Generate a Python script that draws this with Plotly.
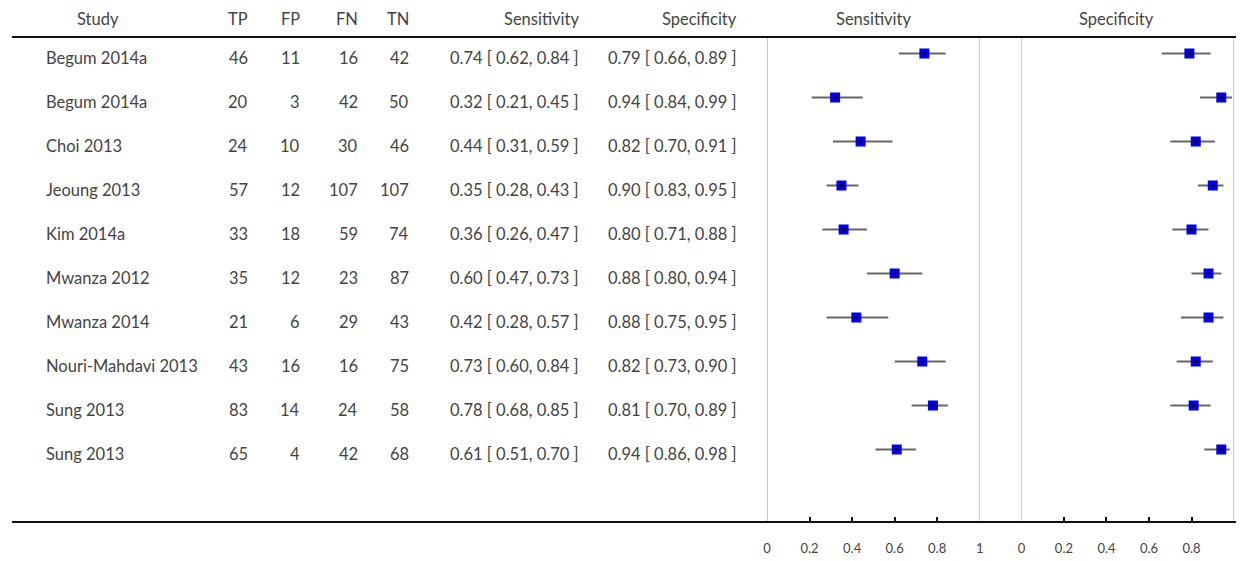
import plotly.graph_objects as go

# Study-level 2x2 data and accuracy estimates
studies = ["Begum 2014a", "Begum 2014a", "Choi 2013", "Jeoung 2013", "Kim 2014a",
           "Mwanza 2012", "Mwanza 2014", "Nouri-Mahdavi 2013", "Sung 2013", "Sung 2013"]
tp = [46, 20, 24, 57, 33, 35, 21, 43, 83, 65]
fp = [11, 3, 10, 12, 18, 12, 6, 16, 14, 4]
fn = [16, 42, 30, 107, 59, 23, 29, 16, 24, 42]
tn = [42, 50, 46, 107, 74, 87, 43, 75, 58, 68]
sens = [0.74, 0.32, 0.44, 0.35, 0.36, 0.60, 0.42, 0.73, 0.78, 0.61]
sens_lo = [0.62, 0.21, 0.31, 0.28, 0.26, 0.47, 0.28, 0.60, 0.68, 0.51]
sens_hi = [0.84, 0.45, 0.59, 0.43, 0.47, 0.73, 0.57, 0.84, 0.85, 0.70]
spec = [0.79, 0.94, 0.82, 0.90, 0.80, 0.88, 0.88, 0.82, 0.81, 0.94]
spec_lo = [0.66, 0.84, 0.70, 0.83, 0.71, 0.80, 0.75, 0.73, 0.70, 0.86]
spec_hi = [0.89, 0.99, 0.91, 0.95, 0.88, 0.94, 0.95, 0.90, 0.89, 0.98]
tick_vals_sens = [0, 0.2, 0.4, 0.6, 0.8, 1]
tick_text_sens = ["0", "0.2", "0.4", "0.6", "0.8", "1"]
tick_vals_spec = [0, 0.2, 0.4, 0.6, 0.8]
tick_text_spec = ["0", "0.2", "0.4", "0.6", "0.8"]

W, H = 1244, 561
FONT = "Lato"
TXT = "#444444"
FS = 16.5
rows = list(range(len(studies)))

# vertical layout (px): first row at 53.5, rows 44 apart, bottom rule at 522
ROW0, ROWH, BOTTOM, TOP = 53.5, 44.0, 522, 37
TEXT_DROP = 4.5 / ROWH  # row labels sit slightly below the marker centre


def px(x):
    return x / W


def py(y):
    return 1 - y / H


fig = go.Figure()


def forest(est, lo, hi, xa):
    fig.add_trace(go.Scatter(
        x=est, y=rows, mode="markers", xaxis=xa, yaxis="y",
        marker=dict(symbol="square", size=10, color="#0000ee",
                    line=dict(width=0)),
        error_x=dict(type="data", symmetric=False,
                     array=[h - e for h, e in zip(hi, est)],
                     arrayminus=[e - l for e, l in zip(est, lo)],
                     width=0, thickness=2, color="#666666"),
        hoverinfo="skip", showlegend=False))
    fig.add_trace(go.Scatter(
        x=est, y=rows, mode="markers", xaxis=xa, yaxis="y",
        marker=dict(symbol="square", size=3, color="#000033"),
        hoverinfo="skip", showlegend=False))


forest(sens, sens_lo, sens_hi, "x")
forest(spec, spec_lo, spec_hi, "x2")

y_dom0 = 1 - BOTTOM / H
y_top_val = (0 - ROW0) / ROWH
y_bot_val = (BOTTOM - ROW0) / ROWH

axis_common = dict(range=[0, 1], showgrid=False, zeroline=False, showline=False,
                   ticks="inside", ticklen=5, tickwidth=1.5, tickcolor="#111",
                   tickfont=dict(family=FONT, size=13, color="#444"),
                   ticklabelstandoff=17, anchor="y", fixedrange=True)

fig.update_layout(
    width=W, height=H,
    margin=dict(l=0, r=0, t=0, b=0),
    paper_bgcolor="white", plot_bgcolor="white",
    xaxis=dict(domain=[px(768), px(982)], tickvals=tick_vals_sens,
               ticktext=tick_text_sens, **axis_common),
    xaxis2=dict(domain=[px(1024), px(1238)], tickvals=tick_vals_spec,
                ticktext=tick_text_spec, **axis_common),
    yaxis=dict(domain=[y_dom0, 1], range=[y_bot_val, y_top_val],
               visible=False, fixedrange=True),
    font=dict(family=FONT, color=TXT),
)

shapes = []
# horizontal rules
for ypix in (TOP, BOTTOM):
    shapes.append(dict(type="line", xref="paper", yref="paper",
                       x0=px(8), x1=px(1240), y0=py(ypix), y1=py(ypix),
                       line=dict(color="#111", width=2)))
# panel boundaries
for xa in ("x", "x2"):
    for xv in (0, 1):
        shapes.append(dict(type="line", xref=xa, yref="paper", x0=xv, x1=xv,
                           y0=py(BOTTOM), y1=py(TOP),
                           line=dict(color="#b8b8b8", width=1.5), layer="below"))
fig.update_layout(shapes=shapes)

ann = []


def text(x, y, s, anchor="right", yref="y"):
    ann.append(dict(x=x, y=y, xref="paper", yref=yref, text=s, showarrow=False,
                    xanchor=anchor, yanchor="middle",
                    font=dict(family=FONT, size=FS, color=TXT)))


# column right edges (px)
c_tp, c_fp, c_fn, c_tn, c_se, c_sp = 248, 300, 358, 410, 581, 740

# headers
hy = py(19)
text(px(95), hy, "Study", "center", "paper")
text(px(c_tp), hy, "TP", "right", "paper")
text(px(c_fp), hy, "FP", "right", "paper")
text(px(c_fn), hy, "FN", "right", "paper")
text(px(c_tn), hy, "TN", "right", "paper")
text(px(c_se), hy, "Sensitivity", "right", "paper")
text(px(c_sp), hy, "Specificity", "right", "paper")
text(px(875), hy, "Sensitivity", "center", "paper")
text(px(1120), hy, "Specificity", "center", "paper")

for i, name in enumerate(studies):
    ty = i + TEXT_DROP
    text(px(40), ty, name, "left")
    text(px(c_tp), ty, str(tp[i]))
    text(px(c_fp), ty, str(fp[i]))
    text(px(c_fn), ty, str(fn[i]))
    text(px(c_tn), ty, str(tn[i]))
    text(px(c_se), ty, f"{sens[i]:.2f} [ {sens_lo[i]:.2f}, {sens_hi[i]:.2f} ]")
    text(px(c_sp), ty, f"{spec[i]:.2f} [ {spec_lo[i]:.2f}, {spec_hi[i]:.2f} ]")

fig.update_layout(annotations=ann)

fig.write_html("out.html")
